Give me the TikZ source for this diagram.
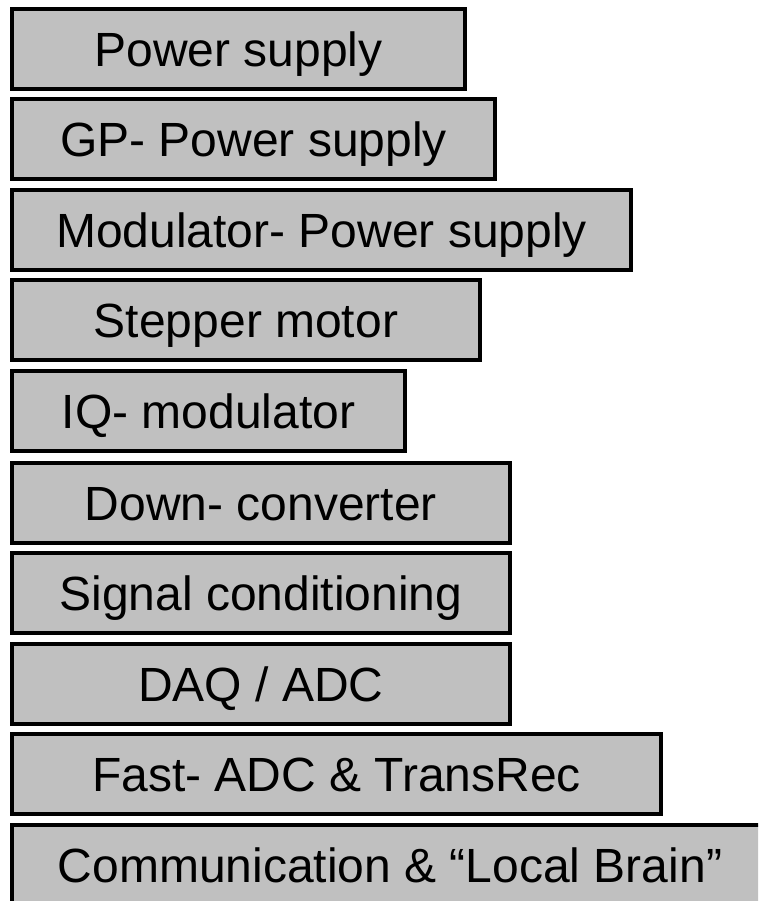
\documentclass[tikz,border=0pt]{standalone}
\usepackage{fontspec}
\setmainfont{Liberation Sans}
\definecolor{boxgray}{RGB}{192,192,192}
\begin{document}
\begin{tikzpicture}[x=1pt,y=1pt,
  blk/.style={draw=black, line width=4pt, fill=boxgray, anchor=north west,
    minimum height=80pt, inner sep=0pt, outer sep=0pt, align=center,
    font=\fontsize{48}{52}\selectfont, text height=34.4pt, text depth=0pt}]
\useasboundingbox (0,0) rectangle (758,-901);
\clip (0,0) rectangle (758,-901);
\node[blk, minimum width=453pt] (b1) at (12,-9) {Power supply};
\node[blk, minimum width=483pt] (b2) at (12,-99) {GP- Power supply};
\node[blk, minimum width=619pt] (b3) at (12,-190) {Modulator- Power supply};
\node[blk, minimum width=468pt] (b4) at (12,-280) {Stepper motor};
\node[blk, minimum width=393pt] (b5) at (12,-371) {IQ- modulator};
\node[blk, minimum width=498pt] (b6) at (12,-463) {Down- converter};
\node[blk, minimum width=498pt] (b7) at (12,-553) {Signal conditioning};
\node[blk, minimum width=498pt] (b8) at (12,-644) {DAQ / ADC};
\node[blk, minimum width=649pt] (b9) at (12,-734) {Fast- ADC \& TransRec};
\node[blk, minimum width=756pt] (b10) at (12,-825) {Communication \& “Local Brain”};
\end{tikzpicture}
\end{document}
